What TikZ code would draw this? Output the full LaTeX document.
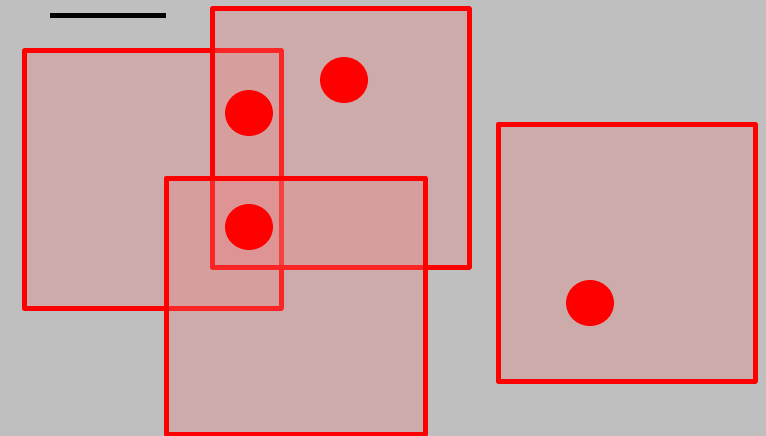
\documentclass[tikz,border=0pt]{standalone}
\usepackage{tikz}
\tikzset{
  box/.style={line width=5pt,red,line join=round,fill={rgb,255:red,240;green,128;blue,128},fill opacity=0.3},
  spot/.style={fill=red,draw=none},
  bar/.style={line width=5pt,black},
}

\begin{document}
\begin{tikzpicture}[x=1pt,y=-1pt]
    % ------------- background -------------
    \fill[gray!50] (0,0) rectangle (766,436);
    \useasboundingbox (0,0) rectangle (766,436);
    % scale bar
    \coordinate (barL) at (50,15.5);
    \coordinate (barR) at (166,15.5);
    \draw[bar] (barL) -- (barR);
    % ------------- boxes, back to front -------------
    \draw[box] (24,51) rectangle (281,308);
    \draw[box] (212,9) rectangle (469,267);
    \draw[box] (166,178) rectangle (425,434);
    \draw[box] (498,124) rectangle (755,381);
    % ------------- points -------------
    \fill[spot] (249,113) ellipse (24 and 23);
    \fill[spot] (344,80) ellipse (24 and 23);
    \fill[spot] (249,227) ellipse (24 and 23);
    \fill[spot] (590,303) ellipse (24 and 23);
  \end{tikzpicture}
\end{document}
